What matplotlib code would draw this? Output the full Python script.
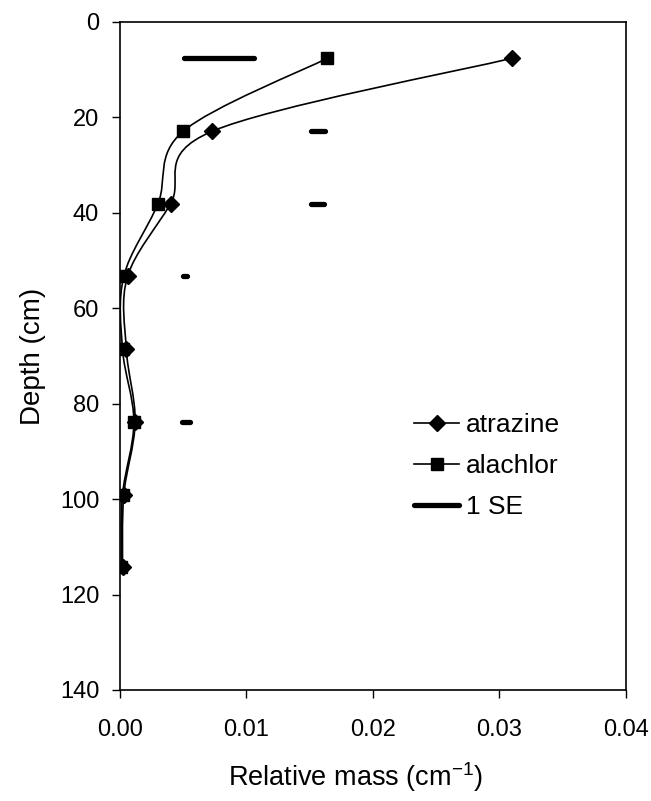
import matplotlib
matplotlib.use('Agg')
import matplotlib.pyplot as plt
from matplotlib.path import Path
from matplotlib.patches import PathPatch
from matplotlib.lines import Line2D

plt.rcParams['font.family'] = ['Liberation Sans', 'DejaVu Sans']

depth = [7.6, 22.9, 38.1, 53.3, 68.6, 83.8, 99.1, 114.3]
atrazine = [0.0310, 0.0073, 0.0040, 0.0006, 0.0005, 0.0012, 0.0003, 0.0002]
alachlor = [0.0164, 0.0050, 0.0030, 0.0003, 0.0002, 0.0011, 0.0002, 0.0001]
# 1 SE bars (left / right ends)
se_lo = [0.0051, 0.0151, 0.0151, 0.0050, 0.00505, 0.0049, 0.00505, 0.00505]
se_hi = [0.0106, 0.0162, 0.0161, 0.0053, 0.0051, 0.0055, 0.0051, 0.0051]


def smooth_path(xs, ys):
    # excel-style smoothed line: bezier segments through the points
    pts = list(zip(xs, ys))
    n = len(pts)
    verts = [pts[0]]
    codes = [Path.MOVETO]
    for i in range(n - 1):
        p0 = pts[i - 1] if i > 0 else pts[i]
        p1 = pts[i]
        p2 = pts[i + 1]
        p3 = pts[i + 2] if i + 2 < n else pts[i + 1]
        c1 = (p1[0] + (p2[0] - p0[0]) / 6, p1[1] + (p2[1] - p0[1]) / 6)
        c2 = (p2[0] - (p3[0] - p1[0]) / 6, p2[1] - (p3[1] - p1[1]) / 6)
        verts += [c1, c2, p2]
        codes += [Path.CURVE4] * 3
    return Path(verts, codes)


fig = plt.figure(figsize=(6.51, 8.01), dpi=100)
ax = fig.add_axes([0.1843, 0.1386, 0.7773, 0.8340])

for xs in (atrazine, alachlor):
    ax.add_patch(PathPatch(smooth_path(xs, depth), fill=False, lw=1.2, color='black', zorder=2))

ax.plot(atrazine, depth, ls='none', marker='D', ms=8, color='black', zorder=3)
ax.plot(alachlor, depth, ls='none', marker='s', ms=8.5, color='black', zorder=3)

for lo, hi, d in zip(se_lo, se_hi, depth):
    ax.plot([lo, hi], [d, d], color='black', lw=3.8, solid_capstyle='round', zorder=3)

ax.set_xlim(0, 0.04)
ax.set_ylim(140, 0)
ax.set_xticks([0, 0.01, 0.02, 0.03, 0.04])
ax.set_xticklabels(['0.00', '0.01', '0.02', '0.03', '0.04'])
ax.set_yticks(range(0, 141, 20))
ax.tick_params(direction='out', length=6, width=1, labelsize=17)
ax.tick_params(axis='x', pad=15)
ax.tick_params(axis='y', pad=9)
for s in ax.spines.values():
    s.set_linewidth(1.2)

ax.set_xlabel('Relative mass (cm$^{\\mathregular{-1}}$)', fontsize=19.5)
ax.xaxis.set_label_coords(0.465, -0.105)
ax.set_ylabel('Depth (cm)', fontsize=20, labelpad=10)

handles = [
    Line2D([], [], color='black', lw=1.2, marker='D', ms=8),
    Line2D([], [], color='black', lw=1.2, marker='s', ms=8.5),
    Line2D([], [], color='black', lw=3.8, solid_capstyle='round'),
]
ax.legend(handles, ['atrazine', 'alachlor', '1 SE'], loc='upper left',
          bbox_to_anchor=(0.535, 0.45), frameon=False, fontsize=19,
          handlelength=1.7, handletextpad=0.25, labelspacing=0.65)

fig.savefig('out.png', dpi=100)
